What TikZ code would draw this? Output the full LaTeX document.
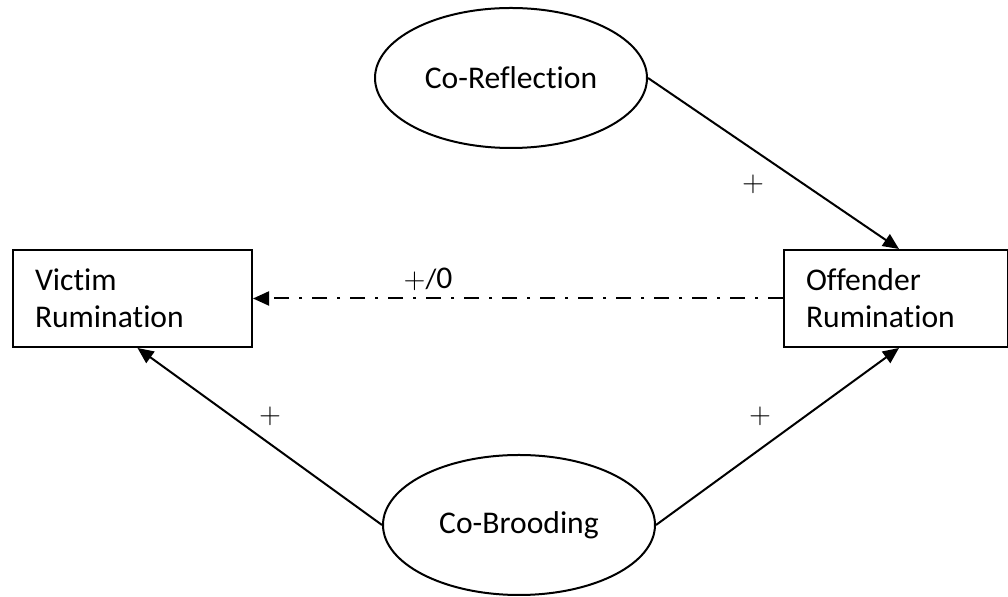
\documentclass[tikz,border=0pt]{standalone}
\usepackage{fontspec}
\setmainfont{Carlito}[Ligatures={NoCommon}]
\usepackage{tikz}
\usetikzlibrary{positioning}
\usetikzlibrary{positioning,shapes,arrows.meta}

\begin{document}
\begin{tikzpicture}[x=0.5pt, y=-0.5pt,
	font=\fontsize{15.8}{18.5}\selectfont,
	box/.style={draw, line width=1pt, minimum width=119.5pt, minimum height=48.5pt,
		inner xsep=11pt, align=left},
	oval/.style={draw, ellipse, line width=1pt, minimum width=136pt, minimum height=70pt},
	link/.style={line width=1pt, -{Triangle[length=8pt,width=7pt]}},
	sign/.style={inner sep=0pt, font=\fontsize{14}{16}\selectfont},
]
\useasboundingbox (0,0) rectangle (1008,597);

% Victim rumination
\node [box,
	text width=97.5pt,
] (victim) at (132.5,298.5) {
Victim\\
Rumination
};

% Offender rumination
\node [box,
	minimum width=112pt,
	text width=90pt,
	right = 265pt of victim
] (offender) {
Offender\\
Rumination
};

% Co-reflection
\node [oval] (coreflection) at (511,78) {Co-Reflection};

% Co-brooding
\node [oval] (cobrooding) at (519,525) {Co-Brooding};

% Arrows with text label

\draw[link] (coreflection.east) -- ([xshift=1.5pt]offender.north);
\draw[link] (cobrooding.east) -- ([xshift=1.5pt]offender.south);
\draw[link] (cobrooding.west) -- ([xshift=2.5pt]victim.south);
\draw[link, dash pattern=on 7.5pt off 5pt on 1.5pt off 5pt] (offender.west) -- (victim.east);

\node [sign] (signrefl) at (753,184) {$+$};
\node [sign] (signvict) at (270,416) {$+$};
\node [sign] (signoff) at (760,416) {$+$};
\node [sign] (signdash) at (428,279) {$+$/{\fontsize{15.8}{18.5}\selectfont 0}};

\end{tikzpicture}
\end{document}
